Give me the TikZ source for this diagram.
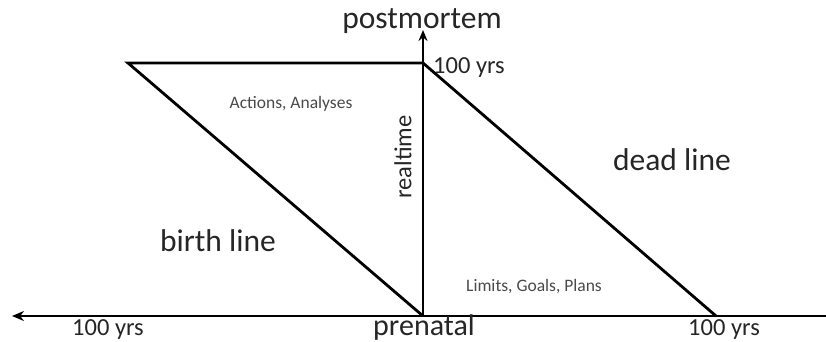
\documentclass[tikz,border=0pt]{standalone}
\usepackage{fontspec}
\setmainfont{Carlito}
\usetikzlibrary{arrows.meta}
\definecolor{txt}{HTML}{262626}
\definecolor{small}{HTML}{4A4A4A}
\begin{document}
\begin{tikzpicture}[x=1pt,y=-1pt,
  axis/.style={line width=2.8pt, draw=black},
  big/.style={font=\fontsize{31.5}{32}\selectfont, text=txt, inner sep=0pt},
  mid/.style={font=\fontsize{24.5}{25}\selectfont, text=txt, inner sep=0pt},
  tiny/.style={font=\fontsize{17.5}{18}\selectfont, text=small, inner sep=0pt}]
\useasboundingbox[fill=white] (0,0) rectangle (826,342);
\coordinate (O) at (423,316);
\coordinate (T) at (423,63);
\coordinate (Ttip) at (423,30);
\coordinate (L) at (128,63);
\coordinate (Ltip) at (12,316);
\coordinate (R) at (826,316);
\coordinate (D) at (716,316);
% axes
\draw[axis, -{Stealth[length=12pt,width=10pt]}] (R) -- (Ltip);
\draw[axis, -{Stealth[length=11pt,width=9pt]}] (O) -- (Ttip);
% triangle lines
\draw[axis, line join=miter] (O) -- (L) -- (T);
\draw[axis] (T) -- (D);
% labels
\node[big] (pm) at (422,21) {postmortem};
\node[big, font=\fontsize{30}{30}\selectfont] (pn) at (424,327.5) {prenatal};
\node[big] (bl) at (218,241) {birth line};
\node[big] (dl) at (672,160) {dead line};
\node[mid, rotate=90] (rt) at (403,157) {realtime};
\node[mid] (y1) at (469,68) {100 yrs};
\node[mid] (y2) at (108,330) {100 yrs};
\node[mid] (y3) at (724,330) {100 yrs};
\node[tiny] (aa) at (291,104) {Actions, Analyses};
\node[tiny] (lg) at (534,287) {Limits, Goals, Plans};
\end{tikzpicture}
\end{document}
